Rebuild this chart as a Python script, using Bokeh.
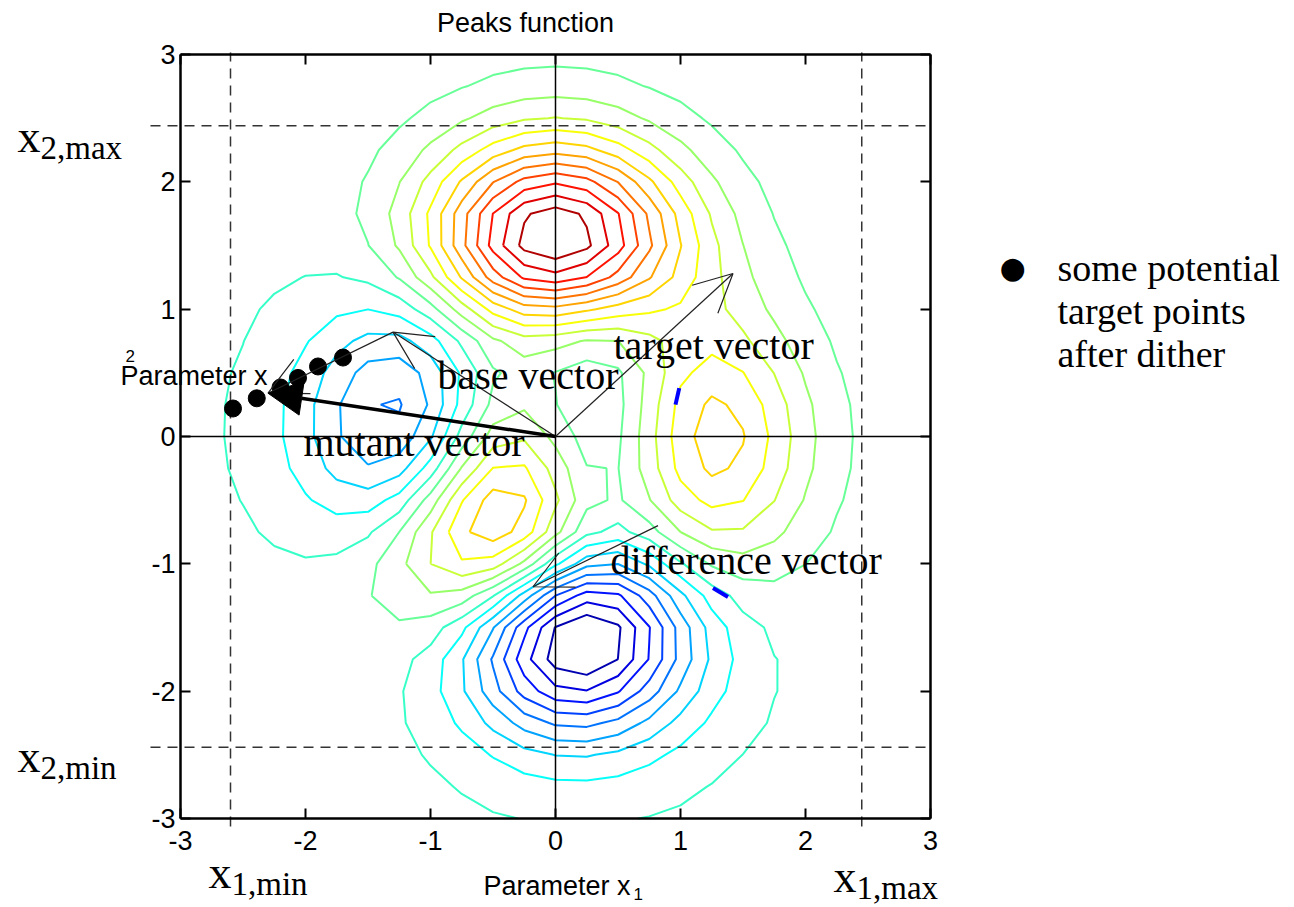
import numpy as np
from bokeh.plotting import figure
from bokeh.models import (Label, Arrow, OpenHead, NormalHead, LinearAxis, FixedTicker,
                          Range1d)
from bokeh.embed import file_html
from bokeh.resources import INLINE

# ---------------- data ----------------
# MATLAB "peaks" surface sampled on a coarse 25 x 25 grid over [-3, 3]
grid = np.linspace(-3, 3, 25)
GX, GY = np.meshgrid(grid, grid)
peaks_z = (3 * (1 - GX) ** 2 * np.exp(-GX ** 2 - (GY + 1) ** 2)
           - 10 * (GX / 5 - GX ** 3 - GY ** 5) * np.exp(-GX ** 2 - GY ** 2)
           - 1 / 3 * np.exp(-(GX + 1) ** 2 - GY ** 2))
n_levels = 20

# parameter bounds
x1_min, x1_max = -2.6, 2.45
x2_min, x2_max = -2.44, 2.44

# vectors: target, base, difference, difference copied at base tip, mutant
vec_x0 = [0.0, 0.0, 0.82, -1.30, 0.0]
vec_y0 = [0.0, 0.0, -0.70, 0.82, 0.0]
vec_x1 = [1.42, -1.30, -0.18, -2.30, -2.30]
vec_y1 = [1.28, 0.82, -1.18, 0.34, 0.34]

# potential target points after dither
dither_x = [-2.58, -2.39, -2.20, -2.06, -1.90, -1.70]
dither_y = [0.22, 0.30, 0.385, 0.46, 0.55, 0.62]

# two short stray blue strokes
stray_x0 = [0.99, 1.26]
stray_y0 = [0.38, -1.19]
stray_x1 = [0.96, 1.38]
stray_y1 = [0.25, -1.26]

ticks = [-3, -2, -1, 0, 1, 2, 3]
tick_labels = ["-3", "-2", "-1", "0", "1", "2", "3"]

# ---------------- layout ----------------
W, H = 1294, 907
FL, FR, FT, FB = 180, 930, 54, 818   # axes box edges in pixels


def sx(px):
    return -3 + (px - FL) / (FR - FL) * 6


def sy(py):
    return 3 - (py - FT) / (FB - FT) * 6


SANS = "Liberation Sans"
SERIF = "Liberation Serif"

p = figure(width=W, height=H, x_range=Range1d(sx(0), sx(W)), y_range=Range1d(sy(H), sy(0)),
           output_backend="svg", toolbar_location=None, title=None,
           x_axis_type=None, y_axis_type=None,
           min_border_left=0, min_border_right=0, min_border_top=0, min_border_bottom=0)
p.grid.visible = False
p.outline_line_color = None
p.background_fill_color = "white"
p.border_fill_color = "white"

overrides = {t: s for t, s in zip(ticks, tick_labels)}
for side, loc in (("below", -3), ("left", -3), ("above", 3), ("right", 3)):
    show = side in ("below", "left")
    ax = LinearAxis(ticker=FixedTicker(ticks=ticks), fixed_location=loc, bounds=(-3, 3),
                    major_tick_in=10, major_tick_out=0, minor_tick_line_color=None,
                    axis_line_width=2.5, major_tick_line_width=2,
                    major_label_overrides=overrides,
                    major_label_text_font=SANS, major_label_text_font_size="27px",
                    major_label_text_color="black" if show else None,
                    major_label_standoff=12 if side == "below" else 5)
    p.add_layout(ax, side)

# contours with jet colours
zmin, zmax = peaks_z.min(), peaks_z.max()
levels = np.linspace(zmin, zmax, n_levels + 2)[1:-1]


def jet(t):
    r = np.clip(1.5 - abs(4 * t - 3), 0, 1)
    g = np.clip(1.5 - abs(4 * t - 2), 0, 1)
    b = np.clip(1.5 - abs(4 * t - 1), 0, 1)
    return "#%02x%02x%02x" % (int(r * 255), int(g * 255), int(b * 255))


colors = [jet((lv - zmin) / (zmax - zmin)) for lv in levels]
p.contour(x=grid, y=grid, z=peaks_z, levels=list(levels),
          line_color=colors, line_width=2)

p.segment(stray_x0, stray_y0, stray_x1, stray_y1, line_color="#0000ff", line_width=4)

# axes through the origin
p.segment([0, -3], [-3, 0], [0, 3], [3, 0], line_color="black", line_width=1.5)

# dashed bound lines (slightly overhanging the box, as in the original)
v_lo, v_hi = sy(826), sy(52)
h_lo = sx(150)
p.segment([x1_min, x1_max], [v_lo, v_lo], [x1_min, x1_max], [v_hi, v_hi],
          line_color="#333333", line_width=1.5, line_dash="10 7")
p.segment([h_lo, h_lo], [x2_min, x2_max], [3, 3], [x2_min, x2_max],
          line_color="#333333", line_width=1.5, line_dash="10 7")

# vectors
for i in range(4):
    p.add_layout(Arrow(x_start=vec_x0[i], y_start=vec_y0[i], x_end=vec_x1[i], y_end=vec_y1[i],
                       line_color="#222222", line_width=1.2,
                       end=OpenHead(size=38, line_color="#222222", line_width=1.2)))
p.add_layout(Arrow(x_start=vec_x0[4], y_start=vec_y0[4], x_end=vec_x1[4], y_end=vec_y1[4],
                   line_color="black", line_width=3.5,
                   end=NormalHead(size=34, fill_color="black", line_color="black")))

p.scatter(dither_x, dither_y, size=17, color="black")


def lab(px, py, text, font, size, align="left", baseline="alphabetic"):
    if baseline == "alphabetic":
        py = py - 0.25 * size
    p.add_layout(Label(x=sx(px), y=sy(py), text=text, text_font=font,
                       text_font_size="%dpx" % size, text_color="black",
                       text_align=align, text_baseline=baseline))


lab(525, 22, "Peaks function", SANS, 27, align="center", baseline="middle")
lab(483, 892, "Parameter x", SANS, 27)
lab(633, 898, "1", SANS, 17)
lab(120, 382, "Parameter x", SANS, 27)
lab(125, 360, "2", SANS, 17)

lab(613, 355, "target vector", SERIF, 40)
lab(437, 385, "base vector", SERIF, 40)
lab(303, 452, "mutant vector", SERIF, 40)
lab(610, 570, "difference vector", SERIF, 40)

for (px, py, sub) in [(17, 147, "2,max"), (17, 767, "2,min"), (208, 883, "1,min"), (833, 887, "1,max")]:
    lab(px, py, "x", SERIF, 46)
    lab(px + 23, py + 9, sub, SERIF, 33)

lab(1012, 267, "\u25cf", "DejaVu Sans", 30, align="center", baseline="middle")
lab(1057, 277, "some potential", SERIF, 38)
lab(1057, 320, "target points", SERIF, 38)
lab(1057, 363, "after dither", SERIF, 38)

open("out.html", "w").write(file_html(p, INLINE))
